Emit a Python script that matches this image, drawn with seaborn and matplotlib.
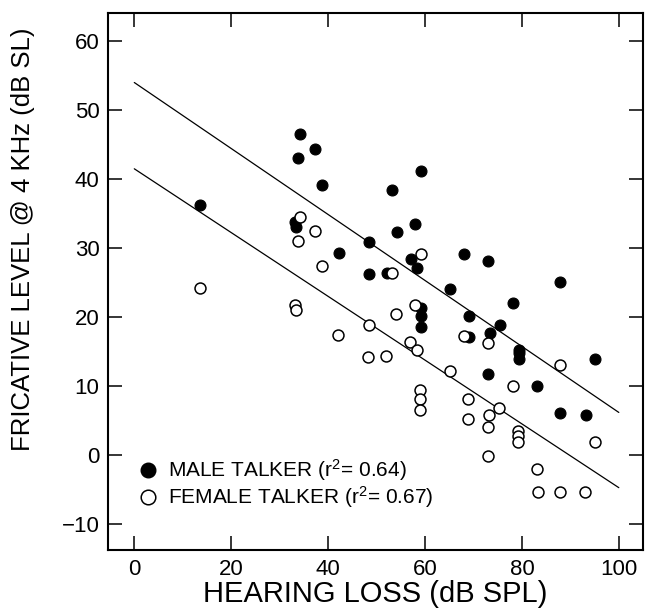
import matplotlib
matplotlib.use("Agg")
import matplotlib.pyplot as plt
import seaborn as sns
import pandas as pd
from matplotlib.lines import Line2D

# ---------------- data ----------------
male_hl = [13.6, 34.3, 37.4, 33.8, 38.7, 33.1, 33.4, 48.4, 42.2, 48.4,
           59.2, 53.2, 58.0, 54.2, 68.1, 73.1, 57.2, 58.3, 52.2, 65.2,
           87.9, 78.2, 59.2, 59.2, 59.2, 69.1, 75.4, 73.5, 69.0, 79.3,
           79.3, 79.3, 95.1, 73.1, 83.1, 87.9, 93.2]
male_fl = [36.2, 46.5, 44.4, 43.0, 39.2, 33.8, 33.0, 30.9, 29.3, 26.3,
           41.2, 38.4, 33.5, 32.3, 29.2, 28.1, 28.4, 27.1, 26.4, 24.1,
           25.1, 22.0, 21.3, 20.1, 18.6, 20.2, 18.8, 17.7, 17.2, 15.3,
           14.8, 13.9, 13.9, 11.8, 10.0, 6.1, 5.9]

female_hl = [13.6, 34.3, 37.2, 33.7, 38.7, 33.2, 33.4, 42.0, 48.4, 48.3,
             52.0, 53.2, 59.2, 57.9, 54.1, 68.0, 73.0, 57.0, 58.3, 65.1,
             87.8, 78.1, 59.0, 59.0, 59.0, 68.9, 75.3, 73.3, 68.8, 73.0,
             79.1, 79.1, 79.1, 95.1, 73.0, 83.1, 83.3, 87.8, 93.1]
female_fl = [24.2, 34.5, 32.5, 31.0, 27.4, 21.8, 21.0, 17.4, 18.9, 14.2,
             14.4, 26.4, 29.2, 21.7, 20.4, 17.3, 16.2, 16.4, 15.2, 12.2,
             13.1, 10.0, 9.4, 8.1, 6.6, 8.2, 6.9, 5.8, 5.3, 4.1,
             3.5, 2.8, 1.9, 1.9, -0.1, -2.0, -5.4, -5.4, -5.4]

fit_x = [0, 100]
male_fit_y = [54.0, 6.2]
female_fit_y = [41.5, -4.7]

x_ticks = [0, 20, 40, 60, 80, 100]
y_ticks = [-10, 0, 10, 20, 30, 40, 50, 60]

male_label = "MALE TALKER (r$^2$= 0.64)"
female_label = "FEMALE TALKER (r$^2$= 0.67)"
x_label = "HEARING LOSS (dB SPL)"
y_label = "FRICATIVE LEVEL @ 4 KHz (dB SL)"

# ---------------- styling ----------------
sns.set_style("ticks")
plt.rcParams["font.family"] = ["Liberation Sans", "DejaVu Sans"]
plt.rcParams["mathtext.default"] = "regular"
plt.rcParams["text.color"] = "black"
plt.rcParams["axes.labelcolor"] = "black"
plt.rcParams["xtick.color"] = "black"
plt.rcParams["ytick.color"] = "black"

male_df = pd.DataFrame({"hl": male_hl, "fl": male_fl})
female_df = pd.DataFrame({"hl": female_hl, "fl": female_fl})
fit_df = pd.DataFrame({"x": fit_x, "male": male_fit_y, "female": female_fit_y})

fig = plt.figure(figsize=(6.46, 6.13), dpi=100)
ax = fig.add_axes([0.167, 0.102, 0.8284, 0.876])

sns.lineplot(data=fit_df, x="x", y="male", ax=ax, color="black", lw=0.9)
sns.lineplot(data=fit_df, x="x", y="female", ax=ax, color="black", lw=0.9)

sns.scatterplot(data=male_df, x="hl", y="fl", ax=ax, s=62, marker="o",
                color="black", edgecolor="black", linewidth=0.8, zorder=3)
sns.scatterplot(data=female_df, x="hl", y="fl", ax=ax, s=62, marker="o",
                facecolor="white", edgecolor="black", linewidth=1.1, zorder=4)

ax.set_xlim(-5.45, 105.0)
ax.set_ylim(-13.8, 64.0)
ax.set_xticks(x_ticks)
ax.set_yticks(y_ticks)
ax.set_yticklabels([("\u2212" + str(-t)) if t < 0 else str(t) for t in y_ticks])

for s in ax.spines.values():
    s.set_linewidth(1.5)
    s.set_color("black")
    s.set_visible(True)

ax.tick_params(axis="both", which="major", direction="in", length=10,
               width=1.1, top=True, right=True, labelsize=16, colors="black")
ax.tick_params(axis="x", pad=6)
ax.tick_params(axis="y", pad=6)

ax.set_xlabel(x_label, fontsize=21, labelpad=0, color="black")
ax.set_ylabel(y_label, fontsize=18.5, color="black")
ax.yaxis.set_label_coords(-0.137, 0.58)

handles = [
    Line2D([], [], marker="o", linestyle="none", markersize=10.5,
           markerfacecolor="black", markeredgecolor="black", label=male_label),
    Line2D([], [], marker="o", linestyle="none", markersize=10.5,
           markerfacecolor="white", markeredgecolor="black",
           markeredgewidth=1.1, label=female_label),
]
leg = ax.legend(handles=handles, loc="lower left", bbox_to_anchor=(0.055, 0.075),
                frameon=False, fontsize=15, handlelength=1.0, handletextpad=0.45,
                labelspacing=0.05, borderpad=0, borderaxespad=0)
for t in leg.get_texts():
    t.set_color("black")

fig.savefig("out.png", dpi=100)
